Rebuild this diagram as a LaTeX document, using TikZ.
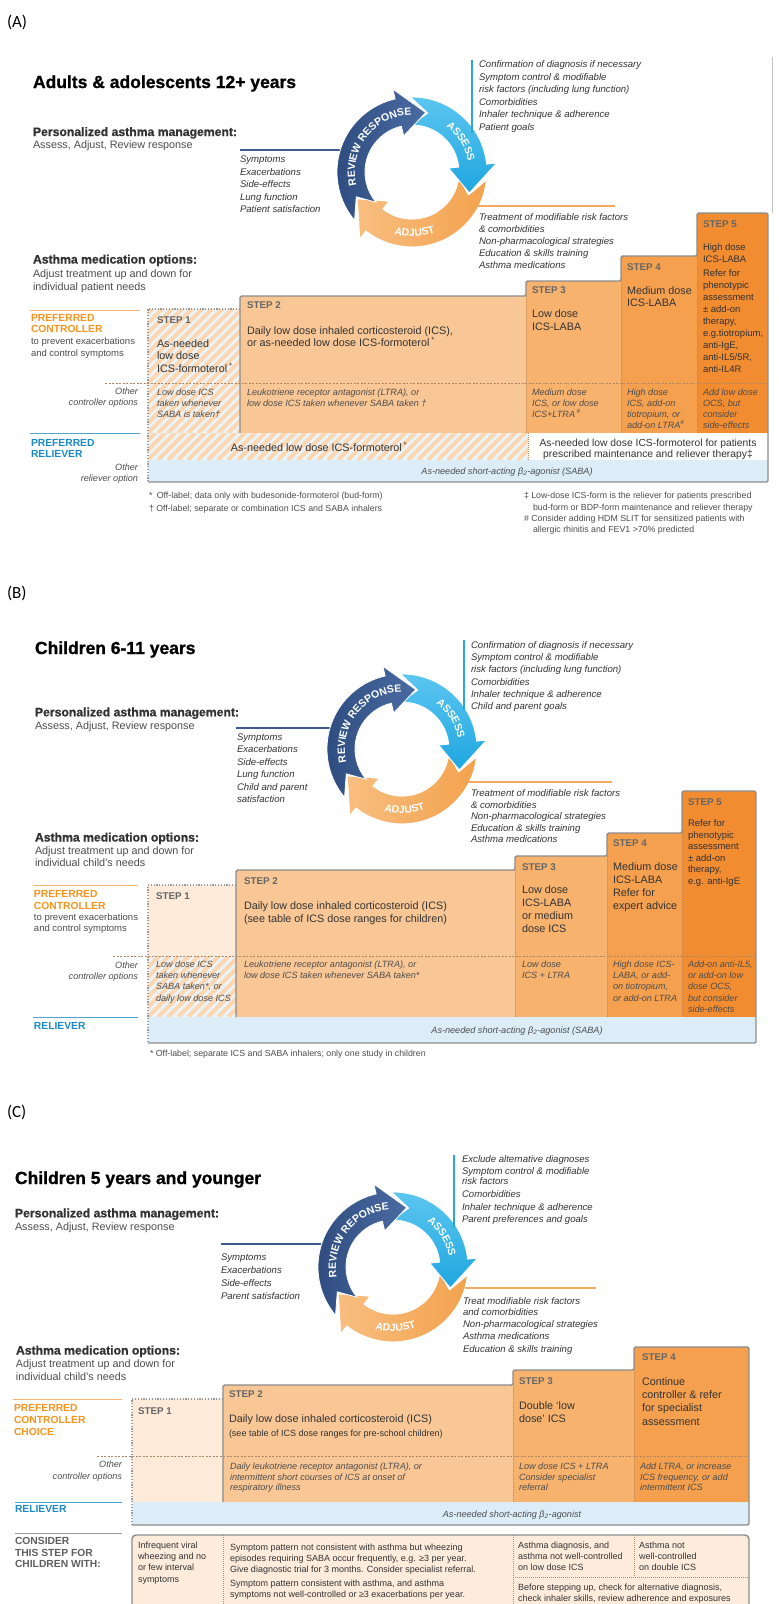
\documentclass[tikz,border=0pt]{standalone}
\usepackage{fontspec}
\setmainfont{Liberation Sans}
\newfontfamily\calib{Carlito}
\newfontfamily\heavy[FakeBold=1.1]{Liberation Sans}
\usetikzlibrary{decorations.text}

\definecolor{txtdark}{HTML}{333333}
\definecolor{txtgray}{HTML}{4D4D4D}
\definecolor{steplab}{HTML}{666666}
\definecolor{laborange}{HTML}{F7941D}
\definecolor{labblue}{HTML}{1B8AC6}
\definecolor{labgray}{HTML}{5F5F5F}
\definecolor{revcol}{HTML}{2C4A7C}
\definecolor{revcolb}{HTML}{4A6BA3}
\definecolor{asscol}{HTML}{1EA6E0}
\definecolor{asscolb}{HTML}{5CC6F0}
\definecolor{adjcol}{HTML}{F3A24D}
\definecolor{adjcolb}{HTML}{F8BE80}
\definecolor{revln}{HTML}{3C5A8E}
\definecolor{assln}{HTML}{2AA7DF}
\definecolor{adjln}{HTML}{F4AA5F}
\definecolor{orln}{HTML}{F7B56E}
\definecolor{blln}{HTML}{4AA3D0}
\definecolor{grln}{HTML}{9B9B9B}
\definecolor{stwo}{HTML}{F9C795}
\definecolor{sthree}{HTML}{F7B26D}
\definecolor{sfour}{HTML}{F5A04E}
\definecolor{sfive}{HTML}{F28C30}
\definecolor{sone}{HTML}{FDEAD9}
\definecolor{hatchbg}{HTML}{EAF4FB}
\definecolor{hatchfg}{HTML}{FCD7B2}
\definecolor{sabacol}{HTML}{DCEDF8}
\definecolor{outlgray}{HTML}{8C8C8C}
\definecolor{dotgray}{HTML}{999999}
\definecolor{divcol}{HTML}{B98A60}
\definecolor{consfill}{HTML}{FDEBDC}

\tikzset{
  every node/.style={inner sep=0pt, outer sep=0pt},
  mtitle/.style={font={\heavy\fontsize{17.5}{20}\selectfont\bfseries}, text=black},
  mpanel/.style={font={\calib\fontsize{17}{20}\selectfont}, text=black},
  mhead/.style={font={\heavy\fontsize{12.2}{14}\selectfont\bfseries}, text=txtdark},
  mbody/.style={font={\fontsize{10.8}{13}\selectfont}, text=txtgray},
  mlist/.style={font={\fontsize{9.6}{12}\selectfont\itshape}, text=txtdark},
  moth/.style={font={\fontsize{9.1}{11}\selectfont\itshape}, text=txtgray},
  mstep/.style={font={\fontsize{9.8}{11}\selectfont\bfseries}, text=steplab},
  mbig/.style={font={\fontsize{10.8}{13}\selectfont}, text=txtdark},
  mmid/.style={font={\fontsize{9.5}{11}\selectfont}, text=txtdark},
  mrel/.style={font={\fontsize{10.3}{12}\selectfont}, text=txtdark},
  mlabo/.style={font={\fontsize{10.3}{12}\selectfont\bfseries}, text=laborange},
  mlabb/.style={font={\fontsize{10.3}{12}\selectfont\bfseries}, text=labblue},
  mlabg/.style={font={\fontsize{10.3}{12}\selectfont\bfseries}, text=labgray},
  msmall/.style={font={\fontsize{9.5}{11}\selectfont}, text=txtgray},
  mfoot/.style={font={\fontsize{8.8}{11}\selectfont}, text=txtgray},
  mcons/.style={font={\fontsize{9}{11}\selectfont}, text=txtdark},
  outl/.style={draw=outlgray, line width=1.4pt, rounded corners=1.5pt},
  sonedot/.style={draw=dotgray, line width=1.1pt, dash pattern=on 1.2pt off 1.6pt},
  stepdiv/.style={draw=divcol, line width=0.6pt, dash pattern=on 1pt off 1pt},
  otherdiv/.style={draw=divcol!80!gray, line width=0.6pt, dash pattern=on 2pt off 1.5pt},
  revline/.style={draw=revln, line width=1.2pt},
  assline/.style={draw=assln, line width=1.2pt},
  adjline/.style={draw=adjln, line width=1.2pt},
  orline/.style={draw=orln, line width=1pt},
  blline/.style={draw=blln, line width=1pt},
  grline/.style={draw=grln, line width=1pt},
}

\newcounter{nn}
\newcommand{\tx}[4][]{\stepcounter{nn}\node[anchor=base west,#1] (t\arabic{nn}) at (#2,-#3) {#4};}
\newcommand{\txl}[5][]{\foreach \s [count=\k from 0] in {#5}{\stepcounter{nn}\node[anchor=base west,#1] (t\arabic{nn}) at (#2,{-#3-\k*#4}) {\s};}}
\newcommand{\hatch}[4]{\begin{scope}\clip (#1,-#2) rectangle (#3,-#4);
  \fill[hatchbg] (#1,-#2) rectangle (#3,-#4);
  \foreach \s in {-130,-120,...,400} \draw[hatchfg, line width=4pt] ({#1+\s},-#4) -- ++(150,150);
  \end{scope}}
\newcommand{\cyc}[3]{\begin{scope}[shift={(#1,-#2)}]
  \shade[left color=adjcolb, right color=adjcol, draw=white, line width=0.8pt] (-6:75) arc[start angle=-6,end angle=-128,radius=75] -- (-128:85) -- (-154:61) -- (-128:37) -- (-128:47) arc[start angle=-128,end angle=-6,radius=47] -- (-22:61) -- cycle;
  \draw[white, line width=0.8pt] (-6:75) arc[start angle=-6,end angle=-128,radius=75] -- (-128:85) -- (-154:61) -- (-128:37) -- (-128:47) arc[start angle=-128,end angle=-6,radius=47] -- (-22:61) -- cycle;
  \shade[top color=asscolb, bottom color=asscol] (91:75) arc[start angle=91,end angle=6,radius=75] -- (6:85) -- (-20:61) -- (6:37) -- (6:47) arc[start angle=6,end angle=91,radius=47] -- (75:61) -- cycle;
  \draw[white, line width=0.8pt] (91:75) arc[start angle=91,end angle=6,radius=75] -- (6:85) -- (-20:61) -- (6:37) -- (6:47) arc[start angle=6,end angle=91,radius=47] -- (75:61) -- cycle;
  \shade[left color=revcol, right color=revcolb] (220:75) arc[start angle=220,end angle=103,radius=75] -- (103:85) -- (77:61) -- (103:37) -- (103:47) arc[start angle=103,end angle=220,radius=47] -- (204:61) -- cycle;
  \draw[white, line width=0.8pt] (220:75) arc[start angle=220,end angle=103,radius=75] -- (103:85) -- (77:61) -- (103:37) -- (103:47) arc[start angle=103,end angle=220,radius=47] -- (204:61) -- cycle;
  \path[decorate, decoration={text along path, text align=center, text={|\fontsize{10.5}{12}\selectfont\bfseries\color{white}|#3}}] (200:57) arc[start angle=200,end angle=84,radius=57];
  \path[decorate, decoration={text along path, text align=center, text={|\fontsize{10.5}{12}\selectfont\bfseries\color{white}|ASSESS}}] (72:57) arc[start angle=72,end angle=-8,radius=57];
  \path[decorate, decoration={text along path, text align=center, text={|\fontsize{10.5}{12}\selectfont\bfseries\color{white}|ADJUST}}] (-135:64.5) arc[start angle=-135,end angle=-40,radius=64.5];
  \end{scope}}

\begin{document}
\begin{tikzpicture}[x=1pt,y=1pt]
\useasboundingbox (0,0) rectangle (779,-1604);
\fill[white] (0,0) rectangle (779,-1604);

%%%%%%%%%%%%%%%%%%%% PANEL A
\tx[mpanel]{7}{27}{(A)}
\tx[mtitle]{33}{88}{Adults \& adolescents 12+ years}
\tx[mhead]{33}{136}{Personalized asthma management:}
\tx[mbody]{33}{148}{Assess, Adjust, Review response}
\draw[revline] (240,-150) -- (340,-150);
\txl[mlist]{240}{162.5}{12.6}{Symptoms,Exacerbations,Side-effects,Lung function,Patient satisfaction}
\cyc{412}{172}{REVIEW RESPONSE}
\draw[assline] (472,-60) -- (472,-133);
\txl[mlist]{479}{67.5}{12.5}{Confirmation of diagnosis if necessary,Symptom control \& modifiable,risk factors (including lung function),Comorbidities,Inhaler technique \& adherence,Patient goals}
\draw[adjline] (478,-206) -- (615,-206);
\txl[mlist]{479}{220.5}{11.9}{Treatment of modifiable risk factors,\& comorbidities,Non-pharmacological strategies,Education \& skills training,Asthma medications}
\draw[grln!60, line width=0.8pt] (772,-57) -- (772,-213);

\tx[mhead]{33}{263.5}{Asthma medication options:}
\txl[mbody]{33}{277}{13}{Adjust treatment up and down for,individual patient needs}

\hatch{148}{309}{240}{433}
\hatch{148}{433}{528}{460}
\fill[stwo] (240,-296) rectangle (526,-433);
\fill[sthree] (526,-281) rectangle (621,-433);
\fill[sfour] (621,-256) rectangle (697,-433);
\fill[sfive] (697,-213) rectangle (768,-433);
\fill[sabacol] (148,-460) rectangle (768,-482);
\draw[stepdiv] (526,-296) -- (526,-433) (621,-281) -- (621,-433) (697,-256) -- (697,-433) (528,-433) -- (528,-460);
\draw[otherdiv] (105,-383) -- (768,-383);
\draw[sonedot] (240,-309) -- (148,-309) -- (148,-482);
\draw[outl] (240,-433) -- (240,-296) -- (526,-296) -- (526,-281) -- (621,-281) -- (621,-256) -- (697,-256) -- (697,-213) -- (768,-213) -- (768,-482) -- (148,-482);

\draw[orline] (30,-310) -- (140,-310);
\txl[mlabo]{31}{321.7}{11}{PREFERRED,CONTROLLER}
\txl[msmall]{31}{344.5}{12}{to prevent exacerbations,and control symptoms}
\txl[moth,anchor=base east]{138}{394.5}{11}{Other,controller options}
\draw[blline] (30,-433) -- (140,-433);
\txl[mlabb]{31}{446.7}{10.5}{PREFERRED,RELIEVER}
\txl[moth,anchor=base east]{138}{470.5}{10.5}{Other,reliever option}

\tx[mstep]{157}{323.6}{STEP 1}
\txl[mbig]{157}{347}{12.5}{As-needed,low dose,ICS-formoterol\,\textsuperscript{*}}
\tx[mstep]{247}{308.6}{STEP 2}
\txl[mbig]{247}{334}{12}{{Daily low dose inhaled corticosteroid (ICS),},or as-needed low dose ICS-formoterol\,\textsuperscript{*}}
\tx[mstep]{532}{293.6}{STEP 3}
\txl[mbig]{532}{317}{13}{Low dose,ICS-LABA}
\tx[mstep]{627}{270.6}{STEP 4}
\txl[mbig]{627}{294}{12.5}{Medium dose,ICS-LABA}
\tx[mstep]{703}{227.6}{STEP 5}
\txl[mmid]{703}{250.5}{12}{High dose,ICS-LABA}
\txl[mmid]{703}{276.5}{12}{Refer for,phenotypic,assessment,± add-on,{therapy,},{e.g.tiotropium,},{anti-IgE,},{anti-IL5/5R,},anti-IL4R}

\txl[moth]{157}{395.5}{11}{Low dose ICS,taken whenever,SABA is taken†}
\txl[moth]{247}{395.5}{11}{{Leukotriene receptor antagonist (LTRA), or},low dose ICS taken whenever SABA taken †}
\txl[moth]{532}{395.5}{11}{Medium dose,{ICS, or low dose},ICS+LTRA\,\textsuperscript{\#}}
\txl[moth]{627}{395.5}{11}{High dose,{ICS, add-on},{tiotropium, or},add-on LTRA\textsuperscript{\#}}
\txl[moth]{703}{395.5}{11}{Add low dose,{OCS, but},consider,side-effects}

\tx[mbig,anchor=base]{319}{451}{As-needed low dose ICS-formoterol\,\textsuperscript{*}}
\tx[mrel,anchor=base]{648}{446.5}{As-needed low dose ICS-formoterol for patients}
\tx[mrel,anchor=base]{648}{457.5}{prescribed maintenance and reliever therapy‡}
\tx[moth,anchor=base]{507}{474.5}{As-needed short-acting β\textsubscript{2}-agonist (SABA)}

\tx[mfoot]{149}{498.5}{*\enspace Off-label; data only with budesonide-formoterol (bud-form)}
\tx[mfoot]{149}{511.5}{† Off-label; separate or combination ICS and SABA inhalers}
\tx[mfoot]{524}{498.5}{‡ Low-dose ICS-form is the reliever for patients prescribed}
\tx[mfoot]{533}{510.5}{bud-form or BDP-form maintenance and reliever therapy}
\tx[mfoot]{524}{521.5}{\# Consider adding HDM SLIT for sensitized patients with}
\tx[mfoot]{533}{532.5}{allergic rhinitis and FEV1 >70\% predicted}

%%%%%%%%%%%%%%%%%%%% PANEL B
\tx[mpanel]{7}{598}{(B)}
\tx[mtitle]{35}{654}{Children 6-11 years}
\tx[mhead]{35}{716.3}{Personalized asthma management:}
\tx[mbody]{35}{729}{Assess, Adjust, Review response}
\draw[revline] (236,-728) -- (330,-728);
\txl[mlist]{237}{740.5}{12.4}{Symptoms,Exacerbations,Side-effects,Lung function,Child and parent,satisfaction}
\cyc{402}{749}{REVIEW RESPONSE}
\draw[assline] (464,-640) -- (464,-710);
\txl[mlist]{471}{648.5}{12.2}{Confirmation of diagnosis if necessary,Symptom control \& modifiable,risk factors (including lung function),Comorbidities,Inhaler technique \& adherence,Child and parent goals}
\draw[adjline] (468,-782) -- (612,-782);
\txl[mlist]{471}{796.5}{11.6}{Treatment of modifiable risk factors,\& comorbidities,Non-pharmacological strategies,Education \& skills training,Asthma medications}
\tx[mhead]{35}{841.5}{Asthma medication options:}
\txl[mbody]{35}{854}{12.5}{Adjust treatment up and down for,individual child’s needs}

\fill[sone] (148,-885) rectangle (236,-956);
\hatch{148}{956}{236}{1017}
\fill[stwo] (236,-870) rectangle (515,-1017);
\fill[sthree] (515,-856) rectangle (607,-1017);
\fill[sfour] (607,-833) rectangle (682,-1017);
\fill[sfive] (682,-791) rectangle (756,-1017);
\fill[sabacol] (148,-1017) rectangle (756,-1043);
\draw[stepdiv] (515,-870) -- (515,-1017) (607,-856) -- (607,-1017) (682,-833) -- (682,-1017);
\draw[otherdiv] (113,-956) -- (756,-956);
\draw[sonedot] (236,-885) -- (148,-885) -- (148,-1043);
\draw[outl] (236,-1017) -- (236,-870) -- (515,-870) -- (515,-856) -- (607,-856) -- (607,-833) -- (682,-833) -- (682,-791) -- (756,-791) -- (756,-1043) -- (148,-1043);

\draw[orline] (33,-885) -- (138,-885);
\txl[mlabo]{34}{897.7}{12}{PREFERRED,CONTROLLER}
\txl[msmall]{34}{920.5}{11}{to prevent exacerbations,and control symptoms}
\txl[moth,anchor=base east]{138}{968.5}{11}{Other,controller options}
\draw[blline] (33,-1017) -- (138,-1017);
\tx[mlabb]{34}{1029.7}{RELIEVER}

\tx[mstep]{156}{899.6}{STEP 1}
\tx[mstep]{244}{884.6}{STEP 2}
\txl[mbig]{244}{909}{13}{Daily low dose inhaled corticosteroid (ICS),(see table of ICS dose ranges for children)}
\tx[mstep]{522}{870.6}{STEP 3}
\txl[mbig]{522}{893}{13}{Low dose,ICS-LABA,or medium,dose ICS}
\tx[mstep]{613}{846.6}{STEP 4}
\txl[mbig]{613}{870}{13}{Medium dose,ICS-LABA,Refer for,expert advice}
\tx[mstep]{688}{805.6}{STEP 5}
\txl[mmid]{688}{826.5}{11.6}{Refer for,phenotypic,assessment,± add-on,{therapy,},e.g. anti-IgE}

\txl[moth]{156}{967.5}{11.2}{Low dose ICS,taken whenever,{SABA taken*, or},daily low dose ICS}
\txl[moth]{244}{967.5}{11.2}{{Leukotriene receptor antagonist (LTRA), or},low dose ICS taken whenever SABA taken*}
\txl[moth]{522}{967.5}{11.2}{Low dose,ICS + LTRA}
\txl[moth]{613}{967.5}{11.2}{High dose ICS-,{LABA, or add-},{on tiotropium,},or add-on LTRA}
\txl[moth]{688}{967.5}{11.2}{{Add-on anti-IL5,},or add-on low,{dose OCS,},but consider,side-effects}
\tx[moth,anchor=base]{517}{1033.5}{As-needed short-acting β\textsubscript{2}-agonist (SABA)}
\tx[mfoot]{150}{1056}{* Off-label; separate ICS and SABA inhalers; only one study in children}

%%%%%%%%%%%%%%%%%%%% PANEL C
\tx[mpanel]{7}{1117}{(C)}
\tx[mtitle]{15}{1184}{Children 5 years and younger}
\tx[mhead]{15}{1217.3}{Personalized asthma management:}
\tx[mbody]{15}{1230}{Assess, Adjust, Review response}
\draw[revline] (221,-1244) -- (321,-1244);
\txl[mlist]{221}{1260.5}{12.9}{Symptoms,Exacerbations,Side-effects,Parent satisfaction}
\cyc{393}{1267}{REVIEW REPONSE}
\draw[assline] (454,-1155) -- (454,-1228);
\tx[mlist]{462}{1162.5}{Exclude alternative diagnoses}
\tx[mlist]{462}{1174.5}{Symptom control \& modifiable}
\tx[mlist]{462}{1184.5}{risk factors}
\tx[mlist]{462}{1197.5}{Comorbidities}
\tx[mlist]{462}{1210.5}{Inhaler technique \& adherence}
\tx[mlist]{462}{1222.5}{Parent preferences and goals}
\draw[adjline] (465,-1288) -- (596,-1288);
\tx[mlist]{463}{1304.5}{Treat modifiable risk factors}
\tx[mlist]{463}{1315.5}{and comorbidities}
\tx[mlist]{463}{1327.5}{Non-pharmacological strategies}
\tx[mlist]{463}{1339.5}{Asthma medications}
\tx[mlist]{463}{1352.5}{Education \& skills training}
\tx[mhead]{16}{1354.5}{Asthma medication options:}
\txl[mbody]{16}{1367}{13}{Adjust treatment up and down for,individual child’s needs}

\fill[sone] (132,-1399) rectangle (223,-1502);
\fill[stwo] (223,-1385) rectangle (513,-1502);
\fill[sthree] (513,-1370) rectangle (634,-1502);
\fill[sfour] (634,-1347) rectangle (749,-1502);
\fill[sabacol] (132,-1502) rectangle (749,-1525);
\draw[stepdiv] (513,-1385) -- (513,-1502) (634,-1370) -- (634,-1502);
\draw[otherdiv] (97,-1456) -- (749,-1456);
\draw[sonedot] (223,-1399) -- (132,-1399) -- (132,-1525);
\draw[outl] (223,-1502) -- (223,-1385) -- (513,-1385) -- (513,-1370) -- (634,-1370) -- (634,-1347) -- (749,-1347) -- (749,-1525) -- (132,-1525);

\draw[orline] (13,-1399) -- (122,-1399);
\txl[mlabo]{14}{1411.7}{12}{PREFERRED,CONTROLLER,CHOICE}
\txl[moth,anchor=base east]{122}{1467.5}{12}{Other,controller options}
\draw[blline] (15,-1502) -- (122,-1502);
\tx[mlabb]{15}{1512.7}{RELIEVER}
\draw[grline] (15,-1533) -- (122,-1533);
\txl[mlabg]{15}{1544.7}{11.5}{CONSIDER,THIS STEP FOR,CHILDREN WITH:}

\tx[mstep]{138}{1414.6}{STEP 1}
\tx[mstep]{229}{1397.6}{STEP 2}
\tx[mbig]{229}{1422}{Daily low dose inhaled corticosteroid (ICS)}
\tx[mcons]{229}{1436.5}{(see table of ICS dose ranges for pre-school children)}
\tx[mstep]{519}{1384.6}{STEP 3}
\txl[mbig]{519}{1409}{13}{Double ‘low,dose’ ICS}
\tx[mstep]{642}{1360.6}{STEP 4}
\txl[mbig]{642}{1385}{13.4}{Continue,controller \& refer,for specialist,assessment}

\txl[moth]{230}{1469.5}{10.7}{{Daily leukotriene receptor antagonist (LTRA), or},intermittent short courses of ICS at onset of,respiratory illness}
\txl[moth]{519}{1469.5}{10.7}{Low dose ICS + LTRA,Consider specialist,referral}
\txl[moth]{640}{1469.5}{10.7}{{Add LTRA, or increase},{ICS frequency, or add},intermittent ICS}
\tx[moth,anchor=base]{512}{1517.5}{As-needed short-acting β\textsubscript{2}-agonist}

\draw[outl, fill=consfill, rounded corners=4pt] (132,-1535) rectangle (749,-1625);
\draw[stepdiv] (223,-1535) -- (223,-1604) (513,-1535) -- (513,-1604) (634,-1535) -- (634,-1577) (513,-1577) -- (749,-1577);
\txl[mcons]{138}{1548.5}{11.2}{Infrequent viral,wheezing and no,or few interval,symptoms}
\txl[mcons]{230}{1550.5}{11}{Symptom pattern not consistent with asthma but wheezing,{episodes requiring SABA occur frequently, e.g. ≥3 per year.},Give diagnostic trial for 3 months. Consider specialist referral.}
\txl[mcons]{230}{1586.5}{11}{{Symptom pattern consistent with asthma, and asthma},symptoms not well-controlled or ≥3 exacerbations per year.}
\txl[mcons]{518}{1548.5}{11.2}{{Asthma diagnosis, and},asthma not well-controlled,on low dose ICS}
\txl[mcons]{639}{1548.5}{11.2}{Asthma not,well-controlled,on double ICS}
\txl[mcons]{518}{1590.5}{10.5}{{Before stepping up, check for alternative diagnosis,},{check inhaler skills, review adherence and exposures}}
\end{tikzpicture}
\end{document}
